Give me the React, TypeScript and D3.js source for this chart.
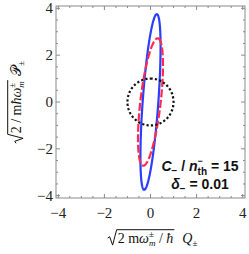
import React, { useEffect, useRef } from "react";
import * as d3 from "d3";

const W = 249, H = 254;
const margin = { left: 56, right: 4, top: 6, bottom: 56 };
const plotW = W - margin.left - margin.right;
const plotH = H - margin.top - margin.bottom;

const xDomain = [-4.1, 4.1];
const yDomain = [-4.1, 4.1];
const majorTicks = [-4, -2, 0, 2, 4];
const minorTicks = [-3.5, -3, -2.5, -1.5, -1, -0.5, 0.5, 1, 1.5, 2.5, 3, 3.5];
const tickLabels = ["\u22124", "\u22122", "0", "2", "4"];

// ellipses: semi axis along the long direction, semi axis across, tilt from vertical (deg)
const curveNames = ["blueState", "redState", "thermal"];
const semiMajor = [3.76, 2.74, 1];
const semiMinor = [0.34, 0.44, 1];
const tiltDeg = [4.2, 6.7, 0];
const curveColors = ["#2b3dff", "#ff2a4c", "#111111"];
const curveDash = [null, "8 2.5", "2.2 2.2"];
const curveWidth = [2.2, 2.2, 2.2];

type Piece = { t: string; size?: number; italic?: boolean; dy?: number; stack?: boolean; family?: string };

function drawMath(g: any, pieces: Piece[], base: number, family: string) {
  let x = 0;
  let lastStart = 0;
  let lastW = 0;
  pieces.forEach((p) => {
    const size = p.size ?? base;
    const start = p.stack ? lastStart : x;
    const t = g.append("text")
      .attr("x", start)
      .attr("y", p.dy ?? 0)
      .attr("xml:space", "preserve")
      .style("white-space", "pre")
      .style("font-family", p.family ?? family)
      .style("font-size", size + "px")
      .style("font-style", p.italic ? "italic" : "normal")
      .attr("fill", "#111")
      .text(p.t);
    const w = (t.node() as SVGTextElement).getComputedTextLength();
    if (p.stack) {
      x = Math.max(x, start + w, lastStart + lastW);
    } else {
      lastStart = start;
      lastW = w;
      x = start + w;
    }
  });
  return x;
}

function drawRadicalLabel(g: any, inner: Piece[], after: Piece[], base: number, family: string) {
  const radW = 9;
  const top = -base * 0.95;
  const ig = g.append("g").attr("transform", `translate(${radW + 1},0)`);
  const innerW = drawMath(ig, inner, base, family);
  g.append("path")
    .attr("d", `M0,${-base * 0.35} L2,${-base * 0.45} L5,${base * 0.15} L${radW},${top} L${radW + innerW + 2},${top}`)
    .attr("fill", "none")
    .attr("stroke", "#111")
    .attr("stroke-width", 1);
  const ag = g.append("g").attr("transform", `translate(${radW + innerW + 3},0)`);
  const afterW = drawMath(ag, after, base, family);
  return radW + innerW + 3 + afterW;
}

export default function App() {
  const ref = useRef<SVGSVGElement>(null);

  useEffect(() => {
    const svg = d3.select(ref.current);
    svg.selectAll("*").remove();

    const x = d3.scaleLinear().domain(xDomain).range([margin.left, margin.left + plotW]);
    const y = d3.scaleLinear().domain(yDomain).range([margin.top + plotH, margin.top]);

    svg.append("rect").attr("width", W).attr("height", H).attr("fill", "#fff");

    // curves
    const angles = d3.range(0, 361, 2).map((d) => (d * Math.PI) / 180);
    curveNames.forEach((name, i) => {
      const th = (tiltDeg[i] * Math.PI) / 180;
      const pts = angles.map((t) => {
        const u = semiMajor[i] * Math.cos(t);
        const v = semiMinor[i] * Math.sin(t);
        return [u * Math.sin(th) + v * Math.cos(th), u * Math.cos(th) - v * Math.sin(th)];
      });
      const line = d3.line<number[]>().x((d) => x(d[0])).y((d) => y(d[1])).curve(d3.curveLinearClosed);
      svg.append("path")
        .attr("class", name)
        .attr("d", line(pts))
        .attr("fill", "none")
        .attr("stroke", curveColors[i])
        .attr("stroke-width", curveWidth[i])
        .attr("stroke-dasharray", curveDash[i]);
    });

    // frame
    const frame = "#8a8a8a";
    svg.append("rect")
      .attr("x", margin.left).attr("y", margin.top)
      .attr("width", plotW).attr("height", plotH)
      .attr("fill", "none").attr("stroke", frame).attr("stroke-width", 1);

    const ticks = (vals: number[], len: number) => {
      vals.forEach((v) => {
        svg.append("line").attr("x1", x(v)).attr("x2", x(v)).attr("y1", y(yDomain[0])).attr("y2", y(yDomain[0]) - len).attr("stroke", frame);
        svg.append("line").attr("x1", x(v)).attr("x2", x(v)).attr("y1", y(yDomain[1])).attr("y2", y(yDomain[1]) + len).attr("stroke", frame);
        svg.append("line").attr("y1", y(v)).attr("y2", y(v)).attr("x1", x(xDomain[0])).attr("x2", x(xDomain[0]) + len).attr("stroke", frame);
        svg.append("line").attr("y1", y(v)).attr("y2", y(v)).attr("x1", x(xDomain[1])).attr("x2", x(xDomain[1]) - len).attr("stroke", frame);
      });
    };
    ticks(majorTicks, 4);
    ticks(minorTicks, 2);

    const serif = "'Liberation Serif', 'Times New Roman', serif";
    majorTicks.forEach((v, i) => {
      svg.append("text").attr("x", x(v)).attr("y", 218).attr("text-anchor", "middle")
        .style("font-family", serif).style("font-size", "15px").attr("fill", "#222").text(tickLabels[i]);
      svg.append("text").attr("x", 53).attr("y", y(v) + 5).attr("text-anchor", "end")
        .style("font-family", serif).style("font-size", "15px").attr("fill", "#222").text(tickLabels[i]);
    });

    // x label
    const xl = svg.append("g");
    const xw = drawRadicalLabel(
      xl,
      [
        { t: "2 m" },
        { t: "\u03c9", italic: true },
        { t: "\u00b1", size: 9, dy: -6 },
        { t: "m", size: 9, dy: 3, italic: true, stack: true },
        { t: " / " },
        { t: "\u0127", italic: true },
      ],
      [{ t: "  Q", italic: true }, { t: "\u00b1", size: 9, dy: 3 }],
      14,
      serif
    );
    xl.attr("transform", `translate(${x(0) - xw / 2 + 2},243)`);

    // y label
    const yl = svg.append("g");
    const yw = drawRadicalLabel(
      yl,
      [
        { t: "2 / m" },
        { t: "\u0127", italic: true },
        { t: "\u03c9", italic: true },
        { t: "\u00b1", size: 9, dy: -6 },
        { t: "m", size: 9, dy: 3, italic: true, stack: true },
      ],
      [{ t: " \ud835\udcab" }, { t: "\u00b1", size: 9, dy: 3 }],
      14,
      serif
    );
    yl.attr("transform", `translate(21,${y(0) + yw / 2}) rotate(-90)`);

    // note
    const sans = "'Liberation Sans', Arial, sans-serif";
    const n1 = svg.append("g").style("font-weight", "bold");
    const w1 = drawMath(n1, [
      { t: "C", italic: true },
      { t: "\u2212", size: 10, dy: 3 },
      { t: " / " },
      { t: "n", italic: true },
      { t: "\u2212", size: 9, dy: -7 },
      { t: "th", size: 10, dy: 4, stack: true },
      { t: " = 15" },
    ], 14, sans);
    n1.attr("transform", `translate(${200 - w1 / 2},171)`);
    const n2 = svg.append("g").style("font-weight", "bold");
    const w2 = drawMath(n2, [
      { t: "\u03b4", italic: true },
      { t: "\u2212", size: 10, dy: 3 },
      { t: " = 0.01" },
    ], 14, sans);
    n2.attr("transform", `translate(${200 - w2 / 2},189)`);
  }, []);

  return (
    <svg ref={ref} width={W} height={H} style={{ position: "absolute", left: 0, top: 0 }} />
  );
}
